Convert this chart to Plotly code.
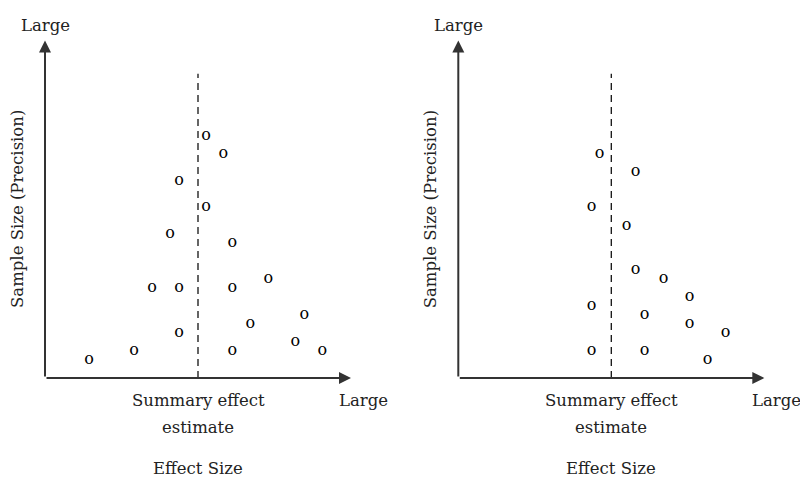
import plotly.graph_objects as go

# ---- data (effect size units, precision units) ----
left_x = [17.9, 19.8, 14.9, 17.9, 13.9, 20.8, 11.9, 14.9, 20.8, 24.8, 28.8, 22.8, 14.9, 27.8, 9.9, 20.8, 30.8, 4.9]
left_y = [26.9, 24.9, 21.9, 19.0, 16.0, 15.0, 10.0, 10.0, 10.0, 11.0, 7.0, 6.0, 5.0, 4.0, 3.0, 3.0, 3.0, 2.0]
right_x = [15.7, 19.7, 14.8, 18.7, 19.7, 22.8, 25.7, 14.8, 20.7, 25.7, 29.7, 14.8, 20.7, 27.7]
right_y = [24.9, 22.9, 19.0, 16.9, 12.0, 11.0, 9.0, 8.0, 7.0, 6.0, 5.0, 3.0, 3.0, 2.0]
summary_effect = 17.0
x_label_end = "Large"
y_label_top = "Large"
y_title = "Sample Size (Precision)"
x_mid_label_1 = "Summary effect"
x_mid_label_2 = "estimate"
x_title = "Effect Size"

W, H = 800, 477
XMAX, YMAX = 34.0, 37.5
FONT = "DejaVu Serif"
AX_COLOR = "#333333"
TXT_COLOR = "#222222"

def py(p):
    return (H - p) / H

fig = go.Figure()

panels = [
    dict(xs=left_x, ys=left_y, xa="x", ya="y", ox=45.0),
    dict(xs=right_x, ys=right_y, xa="x2", ya="y2", ox=458.3),
]

annotations = []
shapes = []
for i, p in enumerate(panels):
    fig.add_trace(go.Scatter(
        x=p["xs"], y=p["ys"], mode="text", text=["o"] * len(p["xs"]),
        textposition="middle center",
        textfont=dict(family=FONT, size=16, color="#000000"),
        xaxis=p["xa"], yaxis=p["ya"], showlegend=False, hoverinfo="skip",
    ))
    ox = p["ox"]
    # axes as arrows
    annotations.append(dict(x=XMAX, y=0, ax=0, ay=0, xref=p["xa"], yref=p["ya"],
                            axref=p["xa"], ayref=p["ya"], text="", showarrow=True,
                            arrowhead=2, arrowsize=1.2, arrowwidth=2, arrowcolor=AX_COLOR))
    annotations.append(dict(x=0, y=YMAX, ax=0, ay=0, xref=p["xa"], yref=p["ya"],
                            axref=p["xa"], ayref=p["ya"], text="", showarrow=True,
                            arrowhead=2, arrowsize=1.2, arrowwidth=2, arrowcolor=AX_COLOR))
    shapes.append(dict(type="line", xref=p["xa"], yref=p["ya"], x0=summary_effect, x1=summary_effect,
                       y0=0, y1=33.8, line=dict(color="#111111", width=1.3, dash="7px,5px")))
    cx = ox + summary_effect * 9
    txt = [
        (ox, 25, y_label_top, 0),
        (ox + 318, 400, x_label_end, 0),
        (cx, 400, x_mid_label_1, 0),
        (cx, 427, x_mid_label_2, 0),
        (cx, 468, x_title, 0),
        (ox - 28, 209, y_title, -90),
    ]
    for (tx, ty, t, ang) in txt:
        annotations.append(dict(x=tx / W, y=py(ty), xref="paper", yref="paper", text=t,
                                showarrow=False, xanchor="center", yanchor="middle",
                                textangle=ang, font=dict(family=FONT, size=16.5, color=TXT_COLOR)))

ax_common = dict(range=[0, XMAX], showgrid=False, zeroline=False, showticklabels=False,
                 ticks="", showline=False, fixedrange=True)
ay_common = dict(range=[0, YMAX], showgrid=False, zeroline=False, showticklabels=False,
                 ticks="", showline=False, fixedrange=True)

y_dom = [py(378), py(378 - YMAX * 9)]
fig.update_layout(
    width=W, height=H, margin=dict(l=0, r=0, t=0, b=0),
    paper_bgcolor="white", plot_bgcolor="white",
    xaxis=dict(domain=[45 / W, (45 + XMAX * 9) / W], anchor="y", **ax_common),
    yaxis=dict(domain=y_dom, anchor="x", **ay_common),
    xaxis2=dict(domain=[458.3 / W, (458.3 + XMAX * 9) / W], anchor="y2", **ax_common),
    yaxis2=dict(domain=y_dom, anchor="x2", **ay_common),
    annotations=annotations, shapes=shapes,
)

fig.write_html("out.html")
